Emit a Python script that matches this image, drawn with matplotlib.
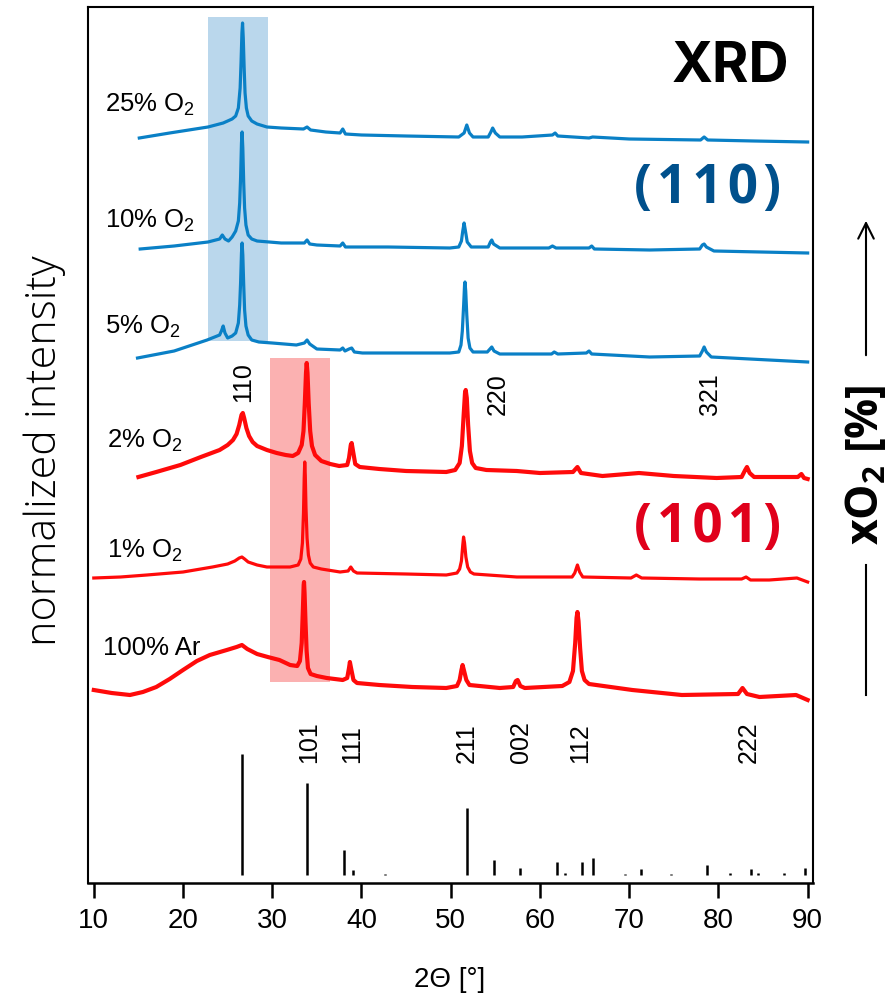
import matplotlib.pyplot as plt
from matplotlib.patches import Rectangle
from matplotlib.lines import Line2D
import numpy as np

plt.rcParams['font.family'] = ['Liberation Sans', 'DejaVu Sans']

# XRD patterns: 2theta [deg] and stacked intensity [a.u.]
tt_25 = [15.1, 18.5, 22.8, 24.5, 25.0, 25.5, 25.9, 26.2, 26.4, 26.5, 26.6, 26.67, 26.75, 26.85, 26.95,
         27.1, 27.3, 27.7, 28.3, 29.4, 31.0, 33.5, 33.9, 34.3, 36.0, 37.6, 37.9, 38.2, 40.0, 45.0,
         50.9, 51.5, 51.8, 52.1, 52.5, 54.2, 54.5, 54.7, 55.0, 55.5, 58.0, 61.4, 61.7, 62.0, 65.5,
         65.9, 70.0, 78.0, 78.4, 78.8, 84.0, 90.0]
i_25 = [745, 750, 756, 760, 762, 764, 767, 775, 795, 820, 850, 860, 845, 815, 790,
        775, 767, 762, 759, 756, 755, 754, 756, 753, 751, 750, 754, 749, 748, 747,
        746, 750, 758, 750, 746, 746, 751, 755, 750, 746, 746, 748, 750, 747, 745,
        746, 744, 743, 746, 743, 742, 741]

tt_10 = [15.2, 19.0, 22.8, 24.1, 24.4, 24.7, 25.1, 25.5, 25.9, 26.2, 26.35, 26.45, 26.55, 26.62, 26.7,
         26.8, 26.9, 27.05, 27.3, 27.7, 28.3, 31.0, 33.6, 33.9, 34.2, 35.0, 37.6, 37.9, 38.2, 43.0,
         49.9, 50.9, 51.2, 51.35, 51.5, 51.65, 51.85, 52.3, 54.2, 54.45, 54.6, 54.8, 55.5, 61.0, 61.4,
         61.8, 65.5, 65.8, 66.1, 72.3, 77.9, 78.2, 78.4, 78.65, 79.5, 90.0]
i_10 = [634, 637, 641, 644, 648, 644, 642, 646, 652, 662, 680, 705, 740, 751, 735,
        700, 675, 658, 648, 644, 642, 640, 640, 643, 639, 638, 637, 640, 636, 636,
        635, 636, 642, 652, 660, 652, 641, 636, 636, 641, 643, 639, 635, 635, 637,
        635, 635, 637, 634, 633, 634, 638, 639, 636, 632, 630]

tt_5 = [14.9, 19.0, 22.7, 24.1, 24.3, 24.5, 24.7, 25.0, 25.5, 25.9, 26.2, 26.35, 26.45, 26.55, 26.62,
        26.7, 26.8, 26.9, 27.05, 27.3, 27.7, 28.5, 30.0, 32.7, 33.6, 33.9, 34.2, 35.0, 37.6, 37.9,
        38.15, 38.6, 38.9, 39.2, 40.1, 49.9, 50.9, 51.15, 51.3, 51.45, 51.55, 51.6, 51.68, 51.8, 51.95,
        52.15, 52.5, 54.1, 54.4, 54.6, 54.85, 55.5, 61.3, 61.6, 62.0, 65.2, 65.5, 65.8, 72.3, 77.9,
        78.2, 78.4, 78.65, 79.2, 90.0]
i_5 = [525, 532, 543, 548, 552, 557, 550, 545, 547, 550, 560, 578, 600, 630, 640,
       628, 598, 573, 557, 548, 543, 541, 540, 538, 540, 543, 539, 534, 533, 535,
       532, 534, 535, 531, 530, 530, 531, 538, 552, 578, 598, 601, 592, 568, 545,
       535, 531, 531, 534, 536, 532, 529, 529, 531, 529, 530, 532, 529, 526, 527,
       532, 536, 531, 526, 521]

tt_2 = [15.0, 17.0, 19.7, 22.0, 24.1, 25.0, 25.6, 26.0, 26.3, 26.55, 26.7, 26.85, 27.1, 27.4, 27.8,
        28.3, 29.4, 30.5, 31.5, 32.3, 32.9, 33.3, 33.5, 33.65, 33.78, 33.86, 33.95, 34.08, 34.25, 34.45,
        34.8, 35.5, 36.5, 37.5, 38.4, 38.6, 38.8, 38.9, 39.05, 39.3, 39.8, 42.0, 45.0, 49.5, 50.5,
        51.0, 51.25, 51.45, 51.6, 51.68, 51.8, 51.95, 52.15, 52.4, 52.8, 54.0, 57.4, 60.0, 63.7, 64.2,
        64.6, 67.0, 71.1, 75.0, 79.8, 82.6, 83.0, 83.2, 83.5, 84.0, 88.9, 89.3, 89.6, 90.0]
i_2 = [406, 411, 418, 426, 433, 438, 443, 449, 458, 468, 470, 465, 455, 447, 441,
       437, 433, 430, 428, 427, 430, 438, 452, 480, 510, 520, 510, 480, 452, 437,
       428, 422, 419, 417, 418, 425, 438, 440, 432, 419, 416, 414, 412, 411, 413,
       420, 437, 468, 490, 493, 485, 458, 432, 420, 415, 413, 412, 410, 411, 416,
       410, 407, 410, 407, 405, 406, 413, 416, 410, 406, 406, 409, 405, 404]

tt_1 = [10.0, 13.0, 15.95, 20.0, 23.3, 25.0, 25.8, 26.3, 26.6, 26.9, 27.3, 28.3, 29.4, 32.0, 32.9,
        33.2, 33.38, 33.5, 33.58, 33.64, 33.7, 33.78, 33.9, 34.05, 34.25, 34.6, 35.5, 37.6, 38.5, 38.8,
        39.1, 39.5, 45.0, 49.5, 50.7, 51.0, 51.2, 51.35, 51.44, 51.55, 51.7, 51.9, 52.2, 52.6, 57.4,
        63.6, 63.9, 64.2, 64.45, 64.8, 70.2, 70.8, 71.4, 77.85, 82.6, 83.1, 83.6, 85.7, 88.8, 90.0]
i_1 = [305, 306, 308, 311, 316, 319, 322, 325, 326, 324, 321, 318, 316, 316, 318,
       324, 340, 370, 405, 421, 408, 375, 345, 328, 320, 316, 314, 311, 312, 316,
       312, 310, 309, 308, 310, 314, 322, 338, 346, 340, 326, 316, 311, 309, 306,
       306, 310, 318, 311, 306, 305, 308, 305, 304, 304, 306, 303, 303, 305, 301]

tt_ar = [10.0, 12.0, 14.05, 15.5, 17.0, 18.5, 20.0, 21.55, 23.0, 24.9, 26.0, 26.6, 27.2, 28.3, 29.5,
         30.8, 32.0, 32.8, 33.1, 33.3, 33.42, 33.52, 33.56, 33.62, 33.72, 33.85, 34.0, 34.3, 35.0, 36.1,
         37.9, 38.4, 38.6, 38.7, 38.85, 39.1, 39.5, 42.0, 45.7, 49.5, 50.7, 51.0, 51.2, 51.33, 51.5,
         51.75, 52.1, 55.5, 57.0, 57.3, 57.5, 57.8, 58.3, 62.5, 63.3, 63.7, 63.95, 64.1, 64.2, 64.32,
         64.5, 64.7, 65.0, 65.5, 70.35, 75.9, 82.2, 82.7, 83.2, 84.6, 88.7, 90.0]
i_ar = [193, 190, 188, 191, 196, 204, 213, 222, 228, 233, 236, 238, 234, 229, 226,
        223, 218, 217, 222, 240, 270, 298, 301, 290, 262, 232, 215, 209, 207, 205,
        203, 205, 215, 221, 214, 203, 200, 198, 196, 195, 197, 203, 213, 218, 212,
        203, 198, 195, 196, 202, 203, 197, 195, 197, 201, 212, 240, 265, 271, 262,
        235, 212, 203, 199, 193, 188, 189, 195, 189, 186, 188, 183]

# reference pattern SnO2 (rutile), relative intensity [%]
ref_tt = [26.6, 33.9, 38.0, 39.0, 42.6, 51.8, 54.8, 57.8, 61.9, 62.8, 64.7, 66.0, 69.5, 71.3, 74.7,
          78.7, 81.3, 83.7, 84.4, 87.3, 89.7]
ref_int = [100, 76, 21, 4, 1, 55, 12, 6, 11, 2, 11, 14, 1, 5, 1, 8, 2, 5, 2, 2, 6]

curve_labels = ['25% O$_\\mathregular{2}$', '10% O$_\\mathregular{2}$', '5% O$_\\mathregular{2}$',
                '2% O$_\\mathregular{2}$', '1% O$_\\mathregular{2}$', '100% Ar']
label_y = [771, 655, 550, 436, 326, 228]
label_x = [11.3, 11.3, 11.3, 11.5, 11.5, 11.0]

hkl_top = ['110', '220', '321']
hkl_top_tt = [26.7, 55.3, 79.1]
hkl_bottom = ['101', '111', '211', '002', '112', '222']
hkl_bottom_tt = [34.1, 39.0, 51.8, 57.9, 64.5, 83.45]

blue = '#0a80c6'
red = '#ff0a0a'
big_font = ['Open Sans', 'DejaVu Sans']
hair = '\u200a'

fig = plt.figure(figsize=(8.91, 9.93), dpi=100)
ax = fig.add_axes([88 / 891, 110 / 993, 725 / 891, 876 / 993])

# highlight of the dominant reflection
ax.add_patch(Rectangle((22.8, 542), 29.47 - 22.8, 866 - 542, color='#bad7ec', lw=0, zorder=0))
ax.add_patch(Rectangle((29.72, 201), 36.44 - 29.72, 525 - 201, color='#fbb1b1', lw=0, zorder=0))

for tt, ii in [(tt_25, i_25), (tt_10, i_10), (tt_5, i_5)]:
    ax.plot(tt, ii, color=blue, lw=2.3, solid_joinstyle='round')
ax.plot(tt_2, i_2, color=red, lw=3.0, solid_joinstyle='round')
ax.plot(tt_1, i_1, color=red, lw=2.3, solid_joinstyle='round')
ax.plot(tt_ar, i_ar, color=red, lw=3.0, solid_joinstyle='round')

# reference sticks
ref_int = np.array(ref_int)
ax.vlines(ref_tt, 8, 8 + ref_int * 1.21, color='black', lw=1.8)

for lab, x, y in zip(curve_labels, label_x, label_y):
    ax.text(x, y, lab, fontsize=18.5, ha='left', va='baseline')

for lab, x in zip(hkl_top, hkl_top_tt):
    y = 481 if lab == '110' else 468
    ax.text(x, y, lab, fontsize=18, rotation=90, ha='center', va='bottom')
for lab, x in zip(hkl_bottom, hkl_bottom_tt):
    ax.text(x, 120, lab, fontsize=18, rotation=90, ha='center', va='bottom')

ax.text(81.3, 801, 'XRD', fontsize=40, fontweight='bold', family='Inter',
        ha='center', va='baseline')
ax.text(78.8, 680, hair.join('(110)'), fontsize=38, fontweight='bold', family=big_font,
        color='#00508c', ha='center', va='baseline')
ax.text(78.8, 341, hair.join('(101)'), fontsize=38, fontweight='bold', family=big_font,
        color='#e0001b', ha='center', va='baseline')

ax.set_xlim(9.35, 90.6)
ax.set_ylim(0, 876)
ax.set_xticks(range(10, 91, 10))
ax.set_yticks([])
ax.tick_params(axis='x', direction='out', length=10.8, width=1.8, labelsize=20, pad=7)
for side in ['left', 'top', 'right']:
    ax.spines[side].set_linewidth(1.5)
ax.spines['bottom'].set_linewidth(1.8)

fig.text(450 / 891, 1 - 987 / 993, '2\u0398 [\u00b0]', fontsize=20, ha='center', va='baseline')
fig.text(45 / 891, 1 - 451 / 993, 'normalized intensity', fontsize=31, rotation=90,
         family='Open Sans', fontweight='light', ha='center', va='center')

# composition arrow on the right
fig.text(866 / 891, 1 - 465 / 993, 'xO$_\\mathregular{2}$ [%]', fontsize=32, rotation=90,
         family='Open Sans', fontweight='bold', ha='center', va='center')
ax.annotate('', xy=(866 / 891, 1 - 218 / 993), xytext=(866 / 891, 1 - 358 / 993),
            xycoords='figure fraction', textcoords='figure fraction',
            arrowprops=dict(arrowstyle='->', lw=1.5, mutation_scale=28, color='black'))
fig.add_artist(Line2D([866 / 891, 866 / 891], [1 - 565 / 993, 1 - 695 / 993],
                      transform=fig.transFigure, color='black', lw=1.5))

fig.savefig('out.png', dpi=100)
